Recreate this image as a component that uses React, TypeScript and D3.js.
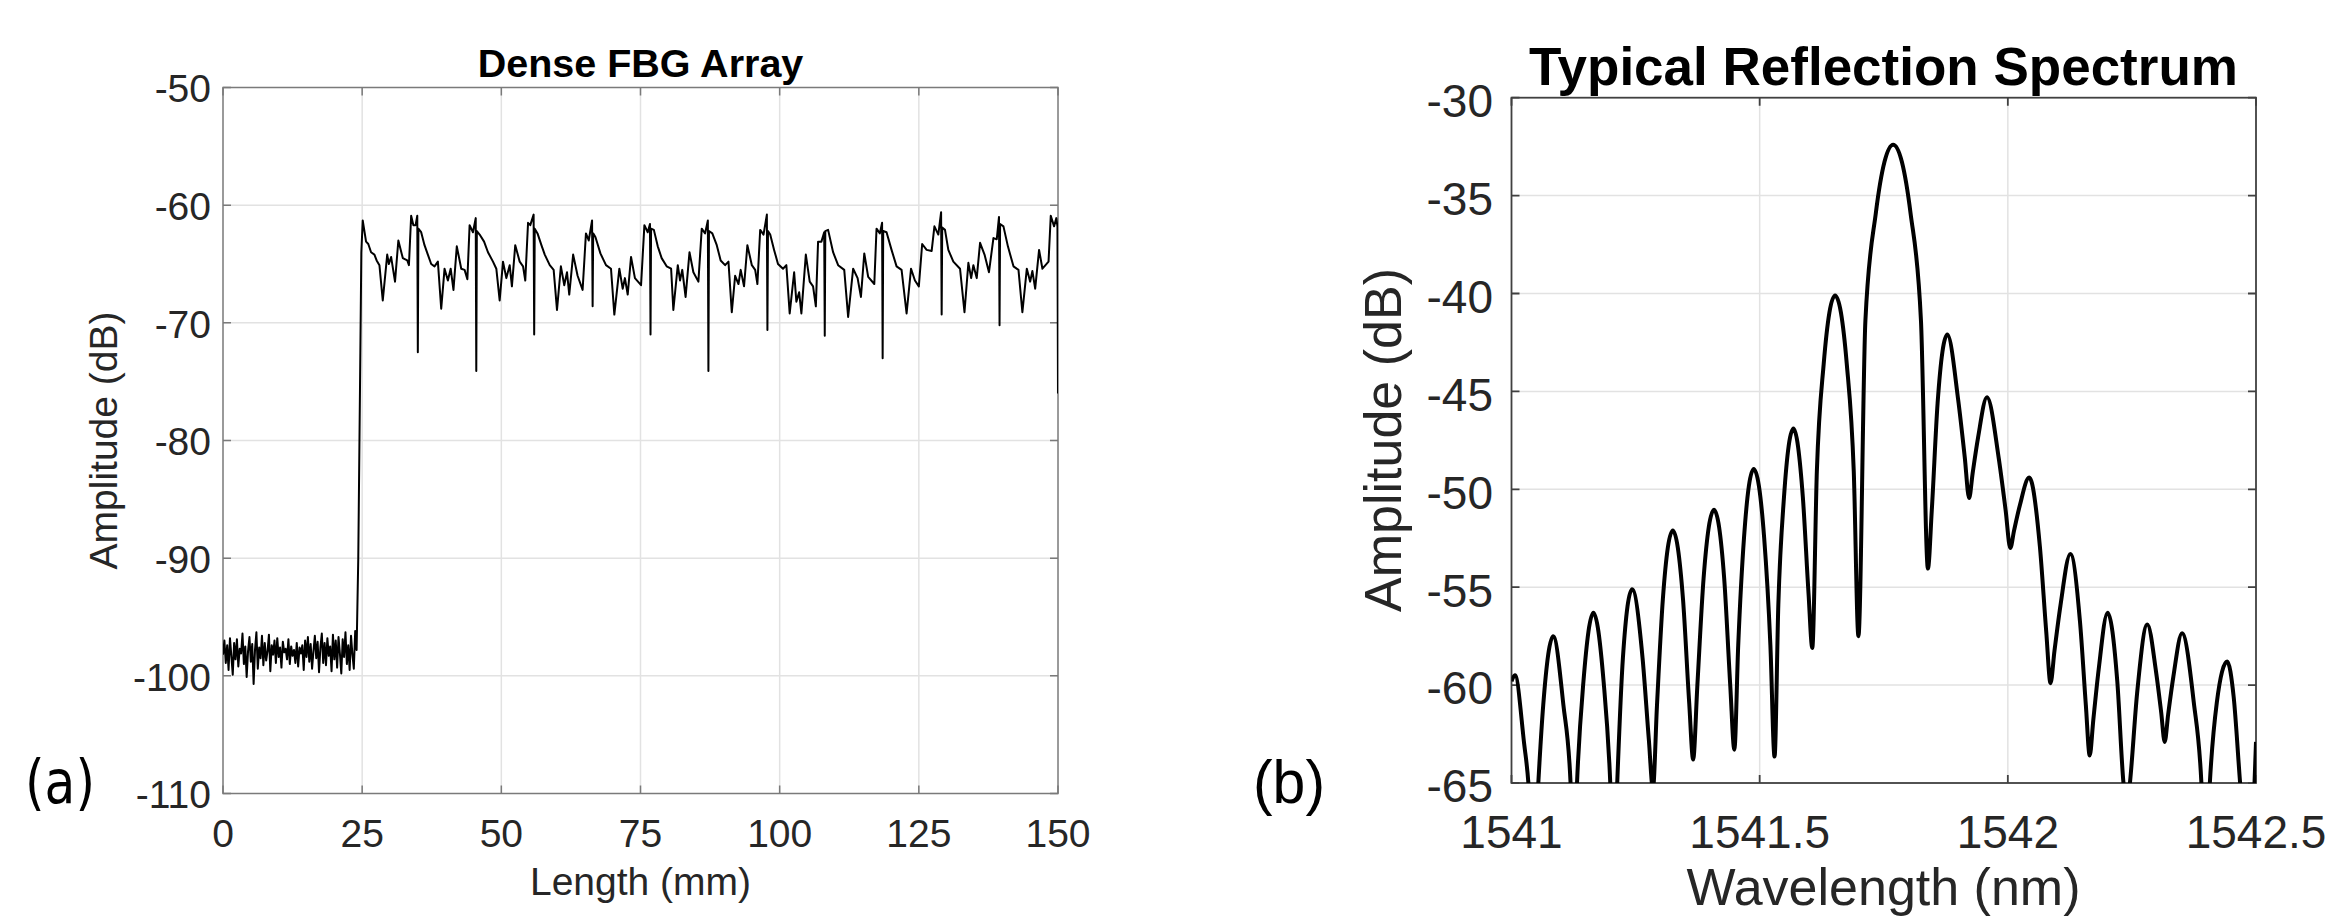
import React, { useEffect, useRef } from 'react'
import * as d3 from 'd3'

const W = 2332
const H = 919
const FONT = '"Liberation Sans", Arial, Helvetica, sans-serif'

// ---- (a) Dense FBG Array ----
const lengthTicks = [0, 25, 50, 75, 100, 125, 150]
const ampTicksA = [-110, -100, -90, -80, -70, -60, -50]
const NOISE_STEP = 0.25 // mm between noise floor samples, starting at 0
const noiseFloor = [
  -98.2, -97.0, -98.9, -97.4, -99.5, -96.8, -98.3, -99.9, -97.2, -98.6,
  -96.9, -99.2, -97.7, -98.1, -96.4, -99.0, -97.5, -100.1, -97.9, -96.7,
  -98.8, -97.3, -100.7, -97.8, -96.3, -99.4, -97.6, -98.5, -96.6, -99.1,
  -97.2, -98.7, -97.9, -96.5, -99.6, -97.4, -98.2, -97.0, -98.9, -96.8,
  -98.4, -97.6, -99.3, -97.1, -98.0, -97.7, -98.6, -96.9, -99.0, -97.5,
  -98.3, -97.8, -98.9, -97.2, -99.2, -97.6, -98.1, -97.4, -99.5, -97.0,
  -98.4, -96.7, -98.8, -97.3, -99.4, -97.9, -96.6, -98.5, -97.1, -99.7,
  -97.6, -96.4, -98.9, -97.2, -99.1, -96.8, -98.3, -97.5, -99.6, -96.5,
  -98.6, -97.0, -99.3, -96.7, -98.1, -99.8, -96.9, -98.4, -96.3, -99.0,
  -97.4, -99.5, -96.6, -98.2, -99.4, -96.2, -97.8,
]
// [length mm, amplitude dB] after the array starts
const fbgTrace: [number, number][] = [
  [24.3, -90], [24.6, -76], [24.85, -64], [25.1, -61.3],
  [25.7, -63.1], [26.1, -63.3], [26.6, -64.0], [27.2, -64.2], [27.6, -64.7], [28.1, -65.1], [28.7, -68.1],
  [29.5, -64.2], [29.8, -65.0], [30.2, -64.4], [30.9, -66.5], [31.5, -63.0], [32.3, -64.5], [33.1, -64.7],
  [33.4, -65.1], [33.8, -60.9], [34.2, -61.7], [34.6, -61.7], [34.9, -60.9], [35.0, -72.5], [35.1, -62.0],
  [35.6, -62.3], [36.2, -63.4], [36.8, -64.2], [37.4, -65.0], [38.0, -65.2], [38.6, -64.8], [39.2, -68.8],
  [39.8, -65.4], [40.4, -66.4], [40.9, -65.4], [41.4, -67.2], [42.0, -63.5], [42.8, -65.4], [43.4, -65.5],
  [43.9, -66.3], [44.3, -61.7], [44.9, -62.3], [45.4, -61.1], [45.5, -74.1], [45.6, -62.2], [46.1, -62.5],
  [46.9, -63.1], [47.6, -64.0], [48.5, -64.8], [49.1, -65.4], [49.7, -68.1], [50.3, -64.8], [50.9, -66.2],
  [51.5, -65.1], [51.9, -66.9], [52.5, -63.4], [53.3, -64.8], [53.9, -65.2], [54.3, -66.4], [54.8, -61.5],
  [55.2, -61.7], [55.8, -60.8], [55.9, -71.0], [56.0, -62.0], [56.5, -62.4], [57.2, -63.4], [57.8, -64.2],
  [58.7, -65.1], [59.4, -65.5], [60.0, -68.9], [60.7, -65.2], [61.3, -66.8], [61.8, -65.7], [62.2, -67.6],
  [62.9, -64.2], [63.7, -66.0], [64.6, -67.2], [65.2, -62.4], [65.7, -63.0], [66.3, -61.3], [66.4, -68.6],
  [66.5, -62.4], [66.9, -62.7], [67.8, -64.1], [68.8, -65.1], [69.7, -65.4], [70.3, -69.3], [71.2, -65.4],
  [71.8, -67.1], [72.2, -66.2], [72.7, -67.6], [73.3, -64.4], [74.0, -66.2], [75.1, -66.8], [75.7, -61.7],
  [76.3, -62.3], [76.7, -61.6], [76.8, -71.0], [76.9, -62.0], [77.4, -62.1], [78.1, -63.5], [78.8, -64.5],
  [79.7, -65.2], [80.5, -65.4], [80.9, -68.9], [81.7, -65.1], [82.1, -66.4], [82.5, -65.5], [83.1, -67.8],
  [83.8, -64.0], [84.5, -65.7], [85.4, -66.5], [86.0, -62.0], [86.6, -62.4], [87.1, -61.3], [87.2, -74.1],
  [87.3, -62.2], [87.9, -62.4], [88.7, -63.4], [89.4, -64.7], [90.2, -65.1], [90.8, -64.8], [91.4, -69.1],
  [92.0, -66.0], [92.6, -66.7], [93.0, -65.5], [93.6, -66.9], [94.2, -63.4], [95.0, -65.1], [95.6, -65.5],
  [96.0, -66.7], [96.5, -62.1], [97.1, -62.5], [97.7, -60.8], [97.8, -70.6], [97.9, -62.2], [98.3, -62.5],
  [99.0, -63.8], [99.7, -65.0], [100.6, -65.4], [101.2, -65.1], [101.8, -69.2], [102.6, -65.7], [103.0, -68.2],
  [103.5, -67.4], [103.9, -69.2], [104.7, -64.2], [105.4, -66.5], [106.0, -66.9], [106.5, -68.6], [106.9, -63.1],
  [107.5, -63.1], [108.0, -62.3], [108.1, -71.1], [108.2, -62.2], [108.7, -62.1], [109.6, -64.0], [110.5, -65.1],
  [111.6, -65.5], [112.3, -69.5], [113.2, -65.4], [114.0, -66.2], [114.6, -67.8], [115.2, -64.1], [115.9, -66.1],
  [117.0, -66.7], [117.4, -62.0], [118.0, -62.4], [118.4, -61.5], [118.5, -73.0], [118.6, -62.2], [119.2, -62.3],
  [120.1, -63.8], [121.0, -65.2], [121.9, -65.5], [122.8, -69.2], [123.6, -65.4], [124.3, -66.4], [125.0, -66.9],
  [125.6, -63.3], [126.4, -63.8], [127.3, -63.9], [127.8, -61.8], [128.5, -62.5], [129.0, -60.6], [129.1, -69.3],
  [129.2, -61.9], [129.7, -62.1], [130.3, -63.8], [131.2, -64.8], [132.4, -65.4], [133.2, -69.1], [133.9, -64.9],
  [134.4, -66.2], [134.8, -65.1], [135.4, -66.2], [136.0, -63.2], [136.8, -64.2], [137.6, -65.7], [138.4, -62.8],
  [139.0, -62.9], [139.4, -61.0], [139.5, -70.2], [139.6, -61.6], [140.2, -61.8], [141.0, -63.5], [142.0, -65.2],
  [142.9, -65.5], [143.6, -69.1], [144.4, -65.4], [145.0, -66.5], [145.4, -65.6], [145.9, -67.1], [146.6, -63.8],
  [147.2, -65.4], [148.3, -64.8], [148.7, -60.9], [149.3, -61.8], [149.7, -61.1], [149.9, -61.8], [150.0, -76.0],
]

// ---- (b) Typical Reflection Spectrum ----
const wavelengthTicks = [1541, 1541.5, 1542, 1542.5]
const ampTicksB = [-65, -60, -55, -50, -45, -40, -35, -30]
// [wavelength nm, amplitude dB]
const spectrum: [number, number][] = [
  [1541.0, -59.8], [1541.007, -59.5], [1541.0255, -63.0], [1541.034, -65.0], [1541.044, -70.0], [1541.054, -65.0],
  [1541.064, -61.0], [1541.084, -57.5], [1541.1045, -61.0], [1541.119, -65.0], [1541.125, -70.0], [1541.132, -65.0],
  [1541.145, -59.8], [1541.165, -56.3], [1541.1855, -59.8], [1541.199, -65.0], [1541.206, -70.0], [1541.213, -65.0],
  [1541.2245, -58.6], [1541.243, -55.1], [1541.264, -58.6], [1541.2766, -62.75], [1541.285, -65.3],
  [1541.293, -61.1], [1541.305, -55.6], [1541.325, -52.1], [1541.3455, -55.6], [1541.358, -60.9], [1541.366, -63.8],
  [1541.3744, -60.05], [1541.387, -54.55], [1541.408, -51.05], [1541.4285, -54.55], [1541.4408, -60.05], [1541.449, -63.3],
  [1541.4568, -57.96], [1541.4685, -52.46], [1541.488, -48.96], [1541.509, -52.46], [1541.5216, -57.96], [1541.53, -63.65],
  [1541.5376, -55.9], [1541.549, -50.4], [1541.568, -46.9], [1541.587, -50.4], [1541.5984, -55.3], [1541.606, -58.1],
  [1541.6152, -49.1], [1541.629, -43.6], [1541.652, -40.1], [1541.6755, -43.6], [1541.6896, -49.1], [1541.699, -57.5],
  [1541.713, -41.4], [1541.734, -35.9], [1541.769, -32.4], [1541.804, -35.9], [1541.825, -41.4], [1541.839, -54.05],
  [1541.8468, -51.06], [1541.8585, -45.6], [1541.878, -42.1], [1541.9, -45.44], [1541.9132, -48.36], [1541.922, -50.45],
  [1541.9292, -49.16], [1541.94, -47.36], [1541.958, -45.3], [1541.9815, -48.38], [1541.9956, -51.08], [1542.005, -53.0],
  [1542.0126, -52.1], [1542.024, -50.84], [1542.043, -49.4], [1542.0645, -52.9], [1542.0774, -57.28], [1542.086, -59.9],
  [1542.094, -58.25], [1542.106, -55.94], [1542.126, -53.3], [1542.1455, -56.8], [1542.1572, -61.03], [1542.165, -63.6],
  [1542.1722, -61.78], [1542.183, -59.2], [1542.201, -56.3], [1542.2205, -59.8], [1542.233, -65.0], [1542.24, -66.3],
  [1542.246, -65.0], [1542.2605, -60.4], [1542.281, -56.9], [1542.2985, -59.3], [1542.309, -61.4], [1542.316, -62.9],
  [1542.323, -61.5], [1542.3335, -59.57], [1542.351, -57.35], [1542.3745, -60.85], [1542.39, -65.0], [1542.398, -70.0],
  [1542.407, -65.0], [1542.421, -60.9], [1542.442, -58.8], [1542.455, -60.6], [1542.468, -65.0], [1542.485, -70.0],
  [1542.497, -65.0], [1542.5, -62.9],
]

type Sel = d3.Selection<SVGGElement, unknown, null, undefined>

interface FrameOpts {
  x: d3.ScaleLinear<number, number>
  y: d3.ScaleLinear<number, number>
  xTicks: number[]
  yTicks: number[]
  tickFont: number
  xTickBaseline: number
  yTickRight: number
  yTickDy: number
  axisColor: string
  axisWidth: number
}

// grid, box, inward ticks on all four sides and tick labels (MATLAB style)
function drawFrame(g: Sel, o: FrameOpts) {
  const [left, right] = o.x.range()
  const [bottom, top] = o.y.range()
  const tick = 8

  g.append('g').selectAll('line').data(o.xTicks.slice(1, -1)).join('line')
    .attr('x1', d => o.x(d)).attr('x2', d => o.x(d))
    .attr('y1', top).attr('y2', bottom)
    .attr('stroke', '#e2e2e2').attr('stroke-width', 1.5)
  g.append('g').selectAll('line').data(o.yTicks.slice(1, -1)).join('line')
    .attr('y1', d => o.y(d)).attr('y2', d => o.y(d))
    .attr('x1', left).attr('x2', right)
    .attr('stroke', '#e2e2e2').attr('stroke-width', 1.5)

  const ax = g.append('g').attr('stroke', o.axisColor).attr('stroke-width', o.axisWidth)
  ax.append('rect')
    .attr('x', left).attr('y', top)
    .attr('width', right - left).attr('height', bottom - top)
    .attr('fill', 'none')
  ax.selectAll('.xt').data(o.xTicks).join('path').attr('class', 'xt')
    .attr('d', d => `M${o.x(d)},${bottom}v${-tick}M${o.x(d)},${top}v${tick}`)
  ax.selectAll('.yt').data(o.yTicks).join('path').attr('class', 'yt')
    .attr('d', d => `M${left},${o.y(d)}h${tick}M${right},${o.y(d)}h${-tick}`)

  g.append('g').selectAll('text').data(o.xTicks).join('text')
    .attr('x', d => o.x(d)).attr('y', o.xTickBaseline)
    .attr('text-anchor', 'middle')
    .attr('font-family', FONT).attr('font-size', o.tickFont).attr('fill', '#262626')
    .text(d => String(d))
  g.append('g').selectAll('text').data(o.yTicks).join('text')
    .attr('x', o.yTickRight).attr('y', d => o.y(d)).attr('dy', `${o.yTickDy}em`)
    .attr('text-anchor', 'end')
    .attr('font-family', FONT).attr('font-size', o.tickFont).attr('fill', '#262626')
    .text(d => String(d))
}

function addText(g: Sel, txt: string, x: number, y: number, size: number, opts: { bold?: boolean, rotate?: boolean, family?: string, len?: number, anchor?: string } = {}) {
  const t = g.append('text')
    .attr('font-family', opts.family || FONT)
    .attr('font-size', size)
    .attr('font-weight', opts.bold ? 'bold' : 'normal')
    .attr('fill', opts.bold ? '#000' : '#262626')
    .attr('text-anchor', opts.anchor || 'middle')
    .text(txt)
  if (opts.rotate) t.attr('transform', `translate(${x},${y}) rotate(-90)`)
  else t.attr('x', x).attr('y', y)
  if (opts.len) t.attr('textLength', opts.len).attr('lengthAdjust', 'spacingAndGlyphs')
  return t
}

function drawFbgPanel(svg: d3.Selection<SVGSVGElement, unknown, null, undefined>) {
  const x = d3.scaleLinear().domain([0, 150]).range([223, 1058])
  const y = d3.scaleLinear().domain([-110, -50]).range([793.5, 87.5])
  const g = svg.append('g') as unknown as Sel

  g.append('clipPath').attr('id', 'clipA')
    .append('rect').attr('x', 223).attr('y', 87.5).attr('width', 835).attr('height', 706)

  drawFrame(g, {
    x, y, xTicks: lengthTicks, yTicks: ampTicksA, tickFont: 39,
    xTickBaseline: 847, yTickRight: 211, yTickDy: 0.38,
    axisColor: '#7a7a7a', axisWidth: 1.5,
  })

  const pts: [number, number][] = noiseFloor.map((v, i) => [i * NOISE_STEP, v] as [number, number]).concat(fbgTrace)
  const line = d3.line<[number, number]>().x(d => x(d[0])).y(d => y(d[1]))
  g.append('path').datum(pts)
    .attr('d', line)
    .attr('clip-path', 'url(#clipA)')
    .attr('fill', 'none').attr('stroke', '#000').attr('stroke-width', 2)
    .attr('stroke-linejoin', 'round')

  addText(g, 'Dense FBG Array', 640.5, 77, 39.5, { bold: true })
  addText(g, 'Length (mm)', 640.5, 895, 39)
  addText(g, 'Amplitude (dB)', 117, 440.5, 39, { rotate: true })
  addText(g, '(a)', 25, 803, 60, { family: '"DejaVu Sans", sans-serif', len: 70, anchor: 'start' })
    .attr('fill', '#000')
}

function drawSpectrumPanel(svg: d3.Selection<SVGSVGElement, unknown, null, undefined>) {
  const x = d3.scaleLinear().domain([1541, 1542.5]).range([1511.5, 2256])
  const y = d3.scaleLinear().domain([-65, -30]).range([783, 97.7])
  const g = svg.append('g') as unknown as Sel

  g.append('clipPath').attr('id', 'clipB')
    .append('rect').attr('x', 1511.5).attr('y', 97.7).attr('width', 2256 - 1511.5).attr('height', 783 - 97.7)

  drawFrame(g, {
    x, y, xTicks: wavelengthTicks, yTicks: ampTicksB, tickFont: 46,
    xTickBaseline: 848, yTickRight: 1493, yTickDy: 0.42,
    axisColor: '#404040', axisWidth: 1.8,
  })

  const line = d3.line<[number, number]>().x(d => x(d[0])).y(d => y(d[1])).curve(d3.curveMonotoneX)
  g.append('path').datum(spectrum)
    .attr('d', line)
    .attr('clip-path', 'url(#clipB)')
    .attr('fill', 'none').attr('stroke', '#000').attr('stroke-width', 4)
    .attr('stroke-linejoin', 'round')

  addText(g, 'Typical Reflection Spectrum', 1883.5, 85, 53, { bold: true })
  addText(g, 'Wavelength (nm)', 1883.5, 905, 52)
  addText(g, 'Amplitude (dB)', 1401, 440, 52, { rotate: true })
  addText(g, '(b)', 1253, 803, 62, { len: 72, anchor: 'start' }).attr('fill', '#000')
}

export default function App() {
  const ref = useRef<SVGSVGElement>(null)

  useEffect(() => {
    if (!ref.current) return
    const svg = d3.select(ref.current)
    svg.selectAll('*').remove()
    drawFbgPanel(svg)
    drawSpectrumPanel(svg)
  }, [])

  return (
    <svg ref={ref} width={W} height={H}
      style={{ position: 'absolute', left: 0, top: 0, background: '#fff', display: 'block' }} />
  )
}
